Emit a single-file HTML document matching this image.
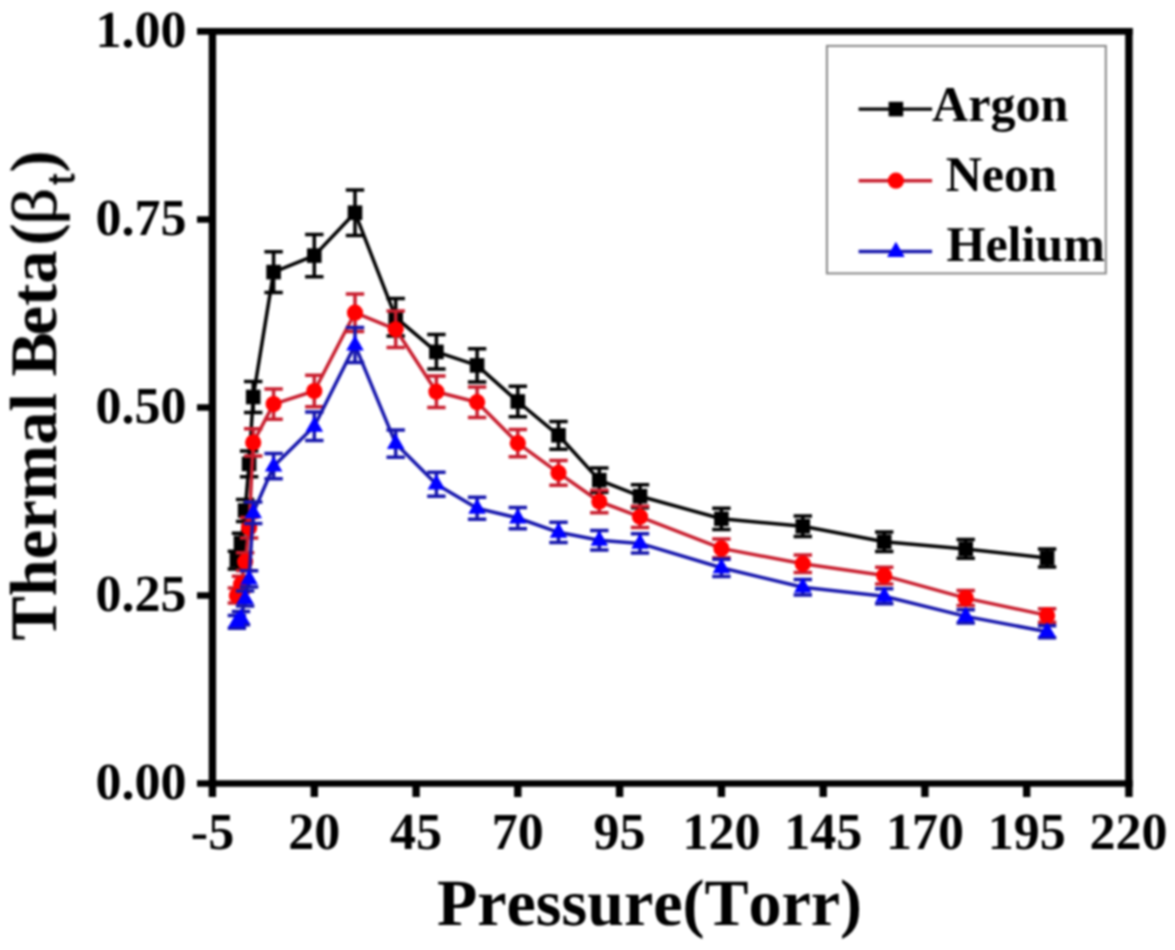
<!DOCTYPE html>
<html><head><meta charset="utf-8"><title>Thermal Beta vs Pressure</title>
<style>
html,body{margin:0;padding:0;background:#fff;}
body{width:1175px;height:950px;overflow:hidden;font-family:"Liberation Serif",serif;}
svg{display:block;font-family:"Liberation Serif",serif;font-kerning:none;font-variant-ligatures:none;text-rendering:geometricPrecision;}
</style></head>
<body>
<svg width="1175" height="950" viewBox="0 0 1175 950">
<defs><filter id="soft" x="0" y="0" width="1175" height="950" filterUnits="userSpaceOnUse" color-interpolation-filters="sRGB"><feGaussianBlur stdDeviation="0.9"/></filter></defs>
<rect width="1175" height="950" fill="#fff"/>
<g filter="url(#soft)">
<rect width="1175" height="950" fill="#fff"/>
<path d="M208.85 31.35H1132.65M208.85 783.5H1132.65" stroke="#000" stroke-width="6.6" fill="none"/>
<path d="M212.4 28.1V797.0M1128.9 28.1V797.0" stroke="#000" stroke-width="7.4" fill="none"/>
<path d="M314.3 783.5V797.0M416.1 783.5V797.0M517.8 783.5V797.0M619.6 783.5V797.0M721.4 783.5V797.0M823.2 783.5V797.0M924.9 783.5V797.0M1026.7 783.5V797.0" stroke="#000" stroke-width="7.4" fill="none"/>
<path d="M212.5 783.50H197.0M212.5 595.50H197.0M212.5 407.50H197.0M212.5 219.50H197.0M212.5 31.35H197.0" stroke="#000" stroke-width="6.6" fill="none"/>
<g font-size="52" font-weight="bold" fill="#000"><text x="212.5" y="849" text-anchor="middle">-5</text><text x="314.3" y="849" text-anchor="middle">20</text><text x="416.1" y="849" text-anchor="middle">45</text><text x="517.8" y="849" text-anchor="middle">70</text><text x="619.6" y="849" text-anchor="middle">95</text><text x="721.4" y="849" text-anchor="middle">120</text><text x="823.2" y="849" text-anchor="middle">145</text><text x="924.9" y="849" text-anchor="middle">170</text><text x="1026.7" y="849" text-anchor="middle">195</text><text x="1128.5" y="849" text-anchor="middle">220</text><text x="186.6" y="799.1" text-anchor="end">0.00</text><text x="186.6" y="611.1" text-anchor="end">0.25</text><text x="186.6" y="423.1" text-anchor="end">0.50</text><text x="186.6" y="235.1" text-anchor="end">0.75</text><text x="186.6" y="47.1" text-anchor="end">1.00</text></g>
<text x="649.5" y="925.4" text-anchor="middle" font-size="66" font-weight="bold">Pressure(Torr)</text>
<g transform="translate(56 640.5) rotate(-90)" font-size="66.5" font-weight="bold"><text x="0" y="0">Thermal B<tspan dx="-3.5">eta</tspan><tspan dx="5">(</tspan></text><text transform="translate(415.5 0) scale(1.1 0.95)" font-weight="normal" stroke="#000" stroke-width="0.7">β</text><text x="456" y="17.5" font-family="Liberation Sans, sans-serif" font-weight="normal" font-size="38" stroke="#000" stroke-width="0.8">t</text><text x="468" y="0">)</text></g>
<polyline points="236.9,560.2 241.0,542.9 245.1,510.5 249.1,463.9 253.2,397.0 273.6,272.1 314.3,255.6 355.0,212.7 395.7,317.3 436.4,351.9 477.1,365.4 517.8,401.5 558.5,435.3 599.3,480.1 640.0,496.2 721.4,518.8 802.8,526.3 884.2,541.7 965.7,548.9 1047.1,557.9" fill="none" stroke="#000" stroke-width="3.5" stroke-linejoin="round"/>
<path d="M236.9 551.2V569.1M227.7 551.2H246.1M227.7 569.1H246.1M241.0 533.2V552.5M231.8 533.2H250.2M231.8 552.5H250.2M245.1 499.6V521.4M235.9 499.6H254.3M235.9 521.4H254.3M249.1 451.1V476.7M239.9 451.1H258.3M239.9 476.7H258.3M253.2 381.5V412.4M244.0 381.5H262.4M244.0 412.4H262.4M273.6 251.7V292.6M264.4 251.7H282.8M264.4 292.6H282.8M314.3 234.5V276.7M305.1 234.5H323.5M305.1 276.7H323.5M355.0 189.9V235.6M345.8 189.9H364.2M345.8 235.6H364.2M395.7 298.6V335.9M386.5 298.6H404.9M386.5 335.9H404.9M436.4 334.6V369.1M427.2 334.6H445.6M427.2 369.1H445.6M477.1 348.7V382.1M467.9 348.7H486.3M467.9 382.1H486.3M517.8 386.2V416.8M508.6 386.2H527.0M508.6 416.8H527.0M558.5 421.4V449.3M549.3 421.4H567.7M549.3 449.3H567.7M599.3 467.9V492.2M590.1 467.9H608.5M590.1 492.2H608.5M640.0 484.7V507.7M630.8 484.7H649.2M630.8 507.7H649.2M721.4 508.2V529.4M712.2 508.2H730.6M712.2 529.4H730.6M802.8 516.0V536.6M793.6 516.0H812.0M793.6 536.6H812.0M884.2 532.1V551.4M875.0 532.1H893.4M875.0 551.4H893.4M965.7 539.5V558.3M956.5 539.5H974.9M956.5 558.3H974.9M1047.1 548.9V566.9M1037.9 548.9H1056.3M1037.9 566.9H1056.3" fill="none" stroke="#000" stroke-width="3.5"/>
<rect x="229.6" y="552.9" width="14.6" height="14.6" fill="#000"/>
<rect x="233.7" y="535.6" width="14.6" height="14.6" fill="#000"/>
<rect x="237.8" y="503.2" width="14.6" height="14.6" fill="#000"/>
<rect x="241.8" y="456.6" width="14.6" height="14.6" fill="#000"/>
<rect x="245.9" y="389.7" width="14.6" height="14.6" fill="#000"/>
<rect x="266.3" y="264.8" width="14.6" height="14.6" fill="#000"/>
<rect x="307.0" y="248.3" width="14.6" height="14.6" fill="#000"/>
<rect x="347.7" y="205.4" width="14.6" height="14.6" fill="#000"/>
<rect x="388.4" y="310.0" width="14.6" height="14.6" fill="#000"/>
<rect x="429.1" y="344.6" width="14.6" height="14.6" fill="#000"/>
<rect x="469.8" y="358.1" width="14.6" height="14.6" fill="#000"/>
<rect x="510.5" y="394.2" width="14.6" height="14.6" fill="#000"/>
<rect x="551.2" y="428.0" width="14.6" height="14.6" fill="#000"/>
<rect x="592.0" y="472.8" width="14.6" height="14.6" fill="#000"/>
<rect x="632.7" y="488.9" width="14.6" height="14.6" fill="#000"/>
<rect x="714.1" y="511.5" width="14.6" height="14.6" fill="#000"/>
<rect x="795.5" y="519.0" width="14.6" height="14.6" fill="#000"/>
<rect x="876.9" y="534.4" width="14.6" height="14.6" fill="#000"/>
<rect x="958.4" y="541.6" width="14.6" height="14.6" fill="#000"/>
<rect x="1039.8" y="550.6" width="14.6" height="14.6" fill="#000"/>
<polyline points="236.9,595.5 241.0,584.2 245.1,561.7 249.1,527.8 253.2,442.5 273.6,404.1 314.3,391.0 355.0,312.7 395.7,329.3 436.4,391.7 477.1,402.2 517.8,443.2 558.5,472.9 599.3,501.5 640.0,516.8 721.4,548.4 802.8,563.8 884.2,575.6 965.7,598.1 1047.1,615.4" fill="none" stroke="#c81e2e" stroke-width="3.5" stroke-linejoin="round"/>
<path d="M236.9 588.0V603.0M227.7 588.0H246.1M227.7 603.0H246.1M241.0 576.2V592.2M231.8 576.2H250.2M231.8 592.2H250.2M245.1 552.8V570.5M235.9 552.8H254.3M235.9 570.5H254.3M249.1 517.6V538.0M239.9 517.6H258.3M239.9 538.0H258.3M253.2 428.8V456.1M244.0 428.8H262.4M244.0 456.1H262.4M273.6 388.9V419.3M264.4 388.9H282.8M264.4 419.3H282.8M314.3 375.3V406.7M305.1 375.3H323.5M305.1 406.7H323.5M355.0 293.9V331.6M345.8 293.9H364.2M345.8 331.6H364.2M395.7 311.1V347.5M386.5 311.1H404.9M386.5 347.5H404.9M436.4 376.0V407.4M427.2 376.0H445.6M427.2 407.4H445.6M477.1 387.0V417.5M467.9 387.0H486.3M467.9 417.5H486.3M517.8 429.6V456.8M508.6 429.6H527.0M508.6 456.8H527.0M558.5 460.5V485.3M549.3 460.5H567.7M549.3 485.3H567.7M599.3 490.2V512.8M590.1 490.2H608.5M590.1 512.8H608.5M640.0 506.2V527.5M630.8 506.2H649.2M630.8 527.5H649.2M721.4 539.0V557.8M712.2 539.0H730.6M712.2 557.8H730.6M802.8 555.0V572.6M793.6 555.0H812.0M793.6 572.6H812.0M884.2 567.3V583.9M875.0 567.3H893.4M875.0 583.9H893.4M965.7 590.6V605.5M956.5 590.6H974.9M956.5 605.5H974.9M1047.1 608.7V622.2M1037.9 608.7H1056.3M1037.9 622.2H1056.3" fill="none" stroke="#c81e2e" stroke-width="3.5"/>
<circle cx="236.9" cy="595.5" r="8.1" fill="#ff0000"/>
<circle cx="241.0" cy="584.2" r="8.1" fill="#ff0000"/>
<circle cx="245.1" cy="561.7" r="8.1" fill="#ff0000"/>
<circle cx="249.1" cy="527.8" r="8.1" fill="#ff0000"/>
<circle cx="253.2" cy="442.5" r="8.1" fill="#ff0000"/>
<circle cx="273.6" cy="404.1" r="8.1" fill="#ff0000"/>
<circle cx="314.3" cy="391.0" r="8.1" fill="#ff0000"/>
<circle cx="355.0" cy="312.7" r="8.1" fill="#ff0000"/>
<circle cx="395.7" cy="329.3" r="8.1" fill="#ff0000"/>
<circle cx="436.4" cy="391.7" r="8.1" fill="#ff0000"/>
<circle cx="477.1" cy="402.2" r="8.1" fill="#ff0000"/>
<circle cx="517.8" cy="443.2" r="8.1" fill="#ff0000"/>
<circle cx="558.5" cy="472.9" r="8.1" fill="#ff0000"/>
<circle cx="599.3" cy="501.5" r="8.1" fill="#ff0000"/>
<circle cx="640.0" cy="516.8" r="8.1" fill="#ff0000"/>
<circle cx="721.4" cy="548.4" r="8.1" fill="#ff0000"/>
<circle cx="802.8" cy="563.8" r="8.1" fill="#ff0000"/>
<circle cx="884.2" cy="575.6" r="8.1" fill="#ff0000"/>
<circle cx="965.7" cy="598.1" r="8.1" fill="#ff0000"/>
<circle cx="1047.1" cy="615.4" r="8.1" fill="#ff0000"/>
<polyline points="236.9,621.8 241.0,618.1 245.1,598.5 249.1,579.0 253.2,512.8 273.6,466.2 314.3,426.3 355.0,345.1 395.7,443.6 436.4,484.2 477.1,508.3 517.8,518.0 558.5,532.3 599.3,540.3 640.0,543.4 721.4,567.8 802.8,587.2 884.2,596.3 965.7,616.4 1047.1,631.7" fill="none" stroke="#1616ac" stroke-width="3.5" stroke-linejoin="round"/>
<path d="M236.9 615.4V628.3M227.7 615.4H246.1M227.7 628.3H246.1M241.0 611.4V624.7M231.8 611.4H250.2M231.8 624.7H250.2M245.1 591.1V605.9M235.9 591.1H254.3M235.9 605.9H254.3M249.1 570.8V587.1M239.9 570.8H258.3M239.9 587.1H258.3M253.2 502.0V523.6M244.0 502.0H262.4M244.0 523.6H262.4M273.6 453.5V478.8M264.4 453.5H282.8M264.4 478.8H282.8M314.3 412.0V440.6M305.1 412.0H323.5M305.1 440.6H323.5M355.0 327.5V362.6M345.8 327.5H364.2M345.8 362.6H364.2M395.7 430.0V457.2M386.5 430.0H404.9M386.5 457.2H404.9M436.4 472.2V496.2M427.2 472.2H445.6M427.2 496.2H445.6M477.1 497.3V519.3M467.9 497.3H486.3M467.9 519.3H486.3M517.8 507.4V528.7M508.6 507.4H527.0M508.6 528.7H527.0M558.5 522.3V542.4M549.3 522.3H567.7M549.3 542.4H567.7M599.3 530.6V550.0M590.1 530.6H608.5M590.1 550.0H608.5M640.0 533.8V553.0M630.8 533.8H649.2M630.8 553.0H649.2M721.4 559.2V576.5M712.2 559.2H730.6M712.2 576.5H730.6M802.8 579.4V595.1M793.6 579.4H812.0M793.6 595.1H812.0M884.2 588.8V603.7M875.0 588.8H893.4M875.0 603.7H893.4M965.7 609.7V623.1M956.5 609.7H974.9M956.5 623.1H974.9M1047.1 625.7V637.8M1037.9 625.7H1056.3M1037.9 637.8H1056.3" fill="none" stroke="#1616ac" stroke-width="3.5"/>
<path d="M236.9 612.0L245.7 627.2H228.1Z" fill="#0000ff"/>
<path d="M241.0 608.3L249.8 623.5H232.2Z" fill="#0000ff"/>
<path d="M245.1 588.7L253.9 603.9H236.3Z" fill="#0000ff"/>
<path d="M249.1 569.2L257.9 584.4H240.3Z" fill="#0000ff"/>
<path d="M253.2 503.0L262.0 518.2H244.4Z" fill="#0000ff"/>
<path d="M273.6 456.4L282.4 471.6H264.8Z" fill="#0000ff"/>
<path d="M314.3 416.5L323.1 431.7H305.5Z" fill="#0000ff"/>
<path d="M355.0 335.3L363.8 350.5H346.2Z" fill="#0000ff"/>
<path d="M395.7 433.8L404.5 449.0H386.9Z" fill="#0000ff"/>
<path d="M436.4 474.4L445.2 489.6H427.6Z" fill="#0000ff"/>
<path d="M477.1 498.5L485.9 513.7H468.3Z" fill="#0000ff"/>
<path d="M517.8 508.2L526.6 523.4H509.0Z" fill="#0000ff"/>
<path d="M558.5 522.5L567.3 537.7H549.7Z" fill="#0000ff"/>
<path d="M599.3 530.5L608.1 545.7H590.5Z" fill="#0000ff"/>
<path d="M640.0 533.6L648.8 548.8H631.2Z" fill="#0000ff"/>
<path d="M721.4 558.0L730.2 573.2H712.6Z" fill="#0000ff"/>
<path d="M802.8 577.4L811.6 592.6H794.0Z" fill="#0000ff"/>
<path d="M884.2 586.5L893.0 601.7H875.4Z" fill="#0000ff"/>
<path d="M965.7 606.6L974.5 621.8H956.9Z" fill="#0000ff"/>
<path d="M1047.1 621.9L1055.9 637.1H1038.3Z" fill="#0000ff"/>
<rect x="826.9" y="45.9" width="278.9" height="227.5" fill="#fff" stroke="#868686" stroke-width="2"/>
<path d="M858.6 109.1H932.1" stroke="#000" stroke-width="3.4"/>
<rect x="888.6" y="101.8" width="14.6" height="14.6" fill="#000"/>
<text x="932.1" y="120.8" font-size="50" font-weight="bold">Argon</text>
<path d="M858.6 180.7H932.1" stroke="#c81e2e" stroke-width="3.4"/>
<circle cx="895.9" cy="180.7" r="8.1" fill="#ff0000"/>
<text x="945.7" y="190.8" font-size="50" font-weight="bold">Neon</text>
<path d="M858.6 251.5H932.1" stroke="#1616ac" stroke-width="3.4"/>
<path d="M895.9 241.7L904.7 256.9H887.1Z" fill="#0000ff"/>
<text x="946.5" y="261.0" font-size="50" font-weight="bold">Helium</text>
</g>
</svg>
</body></html>
